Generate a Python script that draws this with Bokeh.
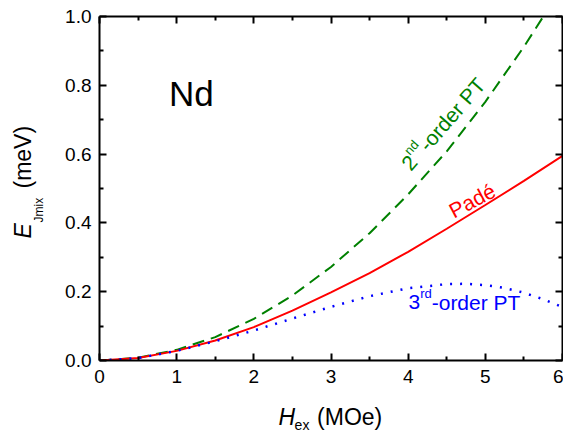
import math
from bokeh.plotting import figure
from bokeh.layouts import row, column
from bokeh.models import (Range1d, LinearAxis, FixedTicker, Label, CustomJSTickFormatter,
                          NumeralTickFormatter)
from bokeh.embed import file_html
from bokeh.resources import INLINE

# ---- data ----
h_red = [0, 0.5, 1, 1.5, 2, 2.5, 3, 3.5, 4, 4.5, 5, 5.5, 6]
pade = [0, 0.007, 0.028, 0.058, 0.097, 0.145, 0.198, 0.254, 0.316, 0.383, 0.452, 0.522, 0.595]

h_green = [0, 0.5, 1, 1.5, 2, 2.5, 3, 3.5, 4, 4.5, 5, 5.5, 6]
pt2 = [0, 0.008, 0.031, 0.068, 0.121, 0.189, 0.272, 0.370, 0.483, 0.608, 0.752, 0.912, 1.087]

h_blue = [0, 0.5, 1, 1.5, 2, 2.5, 3, 3.5, 4, 4.5, 4.75, 5, 5.25, 5.5, 5.75, 6]
pt3 = [0, 0.007, 0.028, 0.056, 0.087, 0.122, 0.156, 0.187, 0.210, 0.222, 0.223, 0.219, 0.211, 0.197, 0.178, 0.155]

x_major = [0, 1, 2, 3, 4, 5, 6]
x_minor = [0.5, 1.5, 2.5, 3.5, 4.5, 5.5]
y_major = [0, 0.2, 0.4, 0.6, 0.8, 1.0]
y_minor = [0.1, 0.3, 0.5, 0.7, 0.9]

RED = "#FF0000"
GREEN = "#008000"
BLUE = "#0000FF"
FONT = "Liberation Sans"
BASE_FIX = 0.4  # em shift so that the given point is the text baseline

p = figure(width=515, height=400, output_backend="svg", toolbar_location=None,
           x_range=Range1d(0, 6), y_range=Range1d(0, 1.0),
           min_border_left=51, min_border_right=1, min_border_top=16, min_border_bottom=40)
p.xgrid.visible = False
p.ygrid.visible = False
p.outline_line_color = None
p.background_fill_color = "white"
p.border_fill_color = "white"

p.line(h_green, pt2, line_color=GREEN, line_width=2, line_dash="12 7")
p.line(h_red, pade, line_color=RED, line_width=2)
p.line(h_blue, pt3, line_color=BLUE, line_width=2.5, line_dash="2 8")

xt = FixedTicker(ticks=x_major, minor_ticks=x_minor)
yt = FixedTicker(ticks=y_major, minor_ticks=y_minor)


def style_axis(ax, show_labels):
    ax.axis_line_width = 2
    ax.axis_line_color = "black"
    ax.major_tick_in = 7
    ax.major_tick_out = 0
    ax.minor_tick_in = 4
    ax.minor_tick_out = 0
    ax.major_tick_line_width = 2
    ax.minor_tick_line_width = 2
    ax.major_label_text_font = FONT
    ax.major_label_text_font_size = "19px"
    ax.major_label_text_color = "black"
    if not show_labels:
        ax.formatter = CustomJSTickFormatter(code="return ''")
        ax.major_label_standoff = 0
        ax.axis_label_standoff = 0


xa = p.xaxis[0]
xa.ticker = xt
xa.formatter = NumeralTickFormatter(format="0")
style_axis(xa, True)
xa.major_label_standoff = 9

ya = p.yaxis[0]
ya.ticker = yt
ya.formatter = NumeralTickFormatter(format="0.0")
style_axis(ya, True)
ya.major_label_standoff = 8

top = LinearAxis(ticker=xt)
style_axis(top, False)
p.add_layout(top, "above")
right = LinearAxis(ticker=yt)
style_axis(right, False)
p.add_layout(right, "right")


def lab(fig, x, y, text, size, color="black", angle=0.0, style="normal", xo=0.0, yo=0.0):
    f = BASE_FIX * size
    fig.add_layout(Label(x=x, y=y, text=text, angle=angle, text_font=FONT,
                         text_font_size=f"{size}px", text_font_style=style,
                         text_color=color, text_align="left", text_baseline="alphabetic",
                         x_offset=xo - f * math.sin(angle), y_offset=yo + f * math.cos(angle)))


def text_strip(w, h):
    f = figure(width=w, height=h, output_backend="svg", toolbar_location=None,
               x_range=Range1d(0, w), y_range=Range1d(0, h),
               x_axis_type=None, y_axis_type=None,
               min_border=0, min_border_left=0, min_border_right=0,
               min_border_top=0, min_border_bottom=0)
    f.outline_line_color = None
    f.background_fill_color = "white"
    f.border_fill_color = "white"
    f.grid.visible = False
    return f


# y-axis title strip (left), x-axis title strip (below)
left = text_strip(48, 434)
lab(left, 32, 196, "E", 23, angle=math.pi / 2, style="italic")
lab(left, 43, 212, "Jmix", 12, angle=math.pi / 2)
lab(left, 32, 246, "(meV)", 23, angle=math.pi / 2)

bottom = text_strip(515, 34)
lab(bottom, 199, 8, "H", 23, style="italic")
lab(bottom, 217, 4, "ex", 14)
lab(bottom, 242, 8, "(MOe)", 23)

# Nd
lab(p, 0.90, 0.735, "Nd", 35)

# Padé
lab(p, 4.60, 0.410, "Padé", 21, color=RED, angle=math.radians(28))

# 2nd-order PT (rotated)
th = math.radians(49)
c, s = math.cos(th), math.sin(th)
w2 = 0.556 * 21
wnd = 1.112 * 13
raise_ = 12
lab(p, 4.05, 0.545, "2", 21, color=GREEN, angle=th)
lab(p, 4.05, 0.545, "nd", 13, color=GREEN, angle=th,
    xo=w2 * c - raise_ * s, yo=w2 * s + raise_ * c)
lab(p, 4.05, 0.545, "-order PT", 21, color=GREEN, angle=th,
    xo=(w2 + wnd) * c, yo=(w2 + wnd) * s)

# 3rd-order PT
lab(p, 4.004, 0.145, "3", 21, color=BLUE)
lab(p, 4.004, 0.145, "rd", 13, color=BLUE, xo=w2, yo=raise_)
lab(p, 4.004, 0.145, "-order PT", 21, color=BLUE, xo=w2 + 0.889 * 13)

layout = row(left, column(p, bottom))
open("out.html", "w").write(file_html(layout, INLINE))
